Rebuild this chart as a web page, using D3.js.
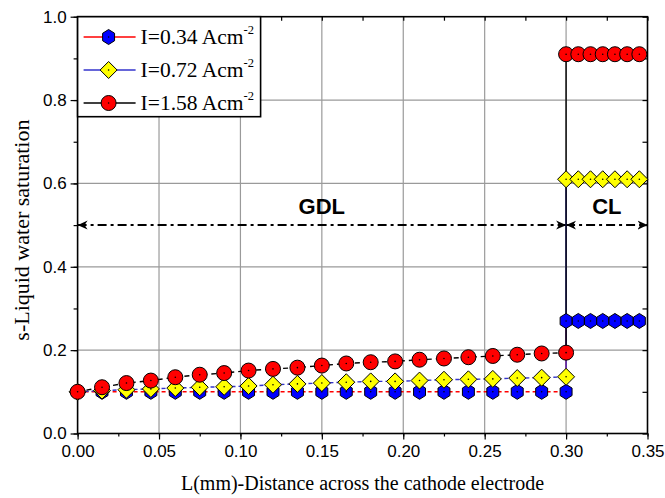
<!DOCTYPE html>
<html lang="en">
<head>
    <meta charset="UTF-8">
    <title>saturation</title>
    <style>
        body { margin: 0; background: #fff; }
        svg text { fill: #000; }
    </style>
</head>
<body>
<svg id="chart"></svg>

<script src="https://cdn.jsdelivr.net/npm/d3@7"></script>
<script>
    var width = 665;
    var height = 498;

    // GDL points (0 .. 0.30) and CL points (0.30 .. 0.345)
    var xGDL = [0, 0.015, 0.03, 0.045, 0.06, 0.075, 0.09, 0.105, 0.12, 0.135, 0.15,
                0.165, 0.18, 0.195, 0.21, 0.225, 0.24, 0.255, 0.27, 0.285, 0.30];
    var xCL = [0.30, 0.3075, 0.315, 0.3225, 0.33, 0.3375, 0.345];

    var gdl034 = [0.1, 0.1, 0.1, 0.1, 0.1, 0.1, 0.1, 0.1, 0.1, 0.1, 0.1,
                  0.1, 0.1, 0.1, 0.1, 0.1, 0.1, 0.1, 0.1, 0.1, 0.1];
    var gdl072 = [0.1, 0.103, 0.105, 0.107, 0.109, 0.111, 0.112, 0.114, 0.117, 0.119, 0.121,
                  0.123, 0.125, 0.125, 0.127, 0.129, 0.130, 0.131, 0.133, 0.134, 0.136];
    var gdl158 = [0.1, 0.111, 0.121, 0.127, 0.135, 0.141, 0.145, 0.151, 0.155, 0.158, 0.163,
                  0.168, 0.171, 0.173, 0.177, 0.180, 0.183, 0.186, 0.189, 0.192, 0.194];
    var cl034 = [0.27, 0.27, 0.27, 0.27, 0.27, 0.27, 0.27];
    var cl072 = [0.61, 0.61, 0.61, 0.61, 0.61, 0.61, 0.61];
    var cl158 = [0.91, 0.91, 0.91, 0.91, 0.91, 0.91, 0.91];

    var seriesNames = ["I=0.34 Acm", "I=0.72 Acm", "I=1.58 Acm"];
    var markerFill = ["#0000ff", "#ffff00", "#ff0000"];
    var lineColor = ["#ff0000", "#3333cc", "#000000"];
    var markerShape = ["hexagon", "diamond", "circle"];

    var xTicks = [0, 0.05, 0.10, 0.15, 0.20, 0.25, 0.30, 0.35];
    var yTicks = [0, 0.2, 0.4, 0.6, 0.8, 1.0];
    var regionNames = ["GDL", "CL"];
    var regionBounds = [[0, 0.30], [0.30, 0.35]];

    // 绘图区边界 (名字避开 window.top)
    var plotL = 77.6, plotR = 647.5, plotT = 16.7, plotB = 433.5;

    var x = d3.scaleLinear().domain([0, 0.35]).range([plotL, plotR]);
    var y = d3.scaleLinear().domain([0, 1]).range([plotB, plotT]);

    var svg = d3.select("#chart")
        .attr("width", width)
        .attr("height", height);

    // 网格线
    var grid = svg.append("g");
    grid.selectAll(".gx")
        .data(xTicks.slice(1, -1))
        .enter().append("line")
        .attr("x1", function(d){ return x(d); })
        .attr("x2", function(d){ return x(d); })
        .attr("y1", plotT).attr("y2", plotB)
        .attr("stroke", "#9a9a9a").attr("stroke-width", 1.2);
    grid.selectAll(".gy")
        .data(yTicks.slice(1, -1))
        .enter().append("line")
        .attr("y1", function(d){ return y(d); })
        .attr("y2", function(d){ return y(d); })
        .attr("x1", plotL).attr("x2", plotR)
        .attr("stroke", "#9a9a9a").attr("stroke-width", 1.2);

    // 坐标轴
    var xMinor = d3.range(0, 0.3501, 0.025);
    var yMinor = d3.range(0, 1.0001, 0.1);

    function styleAxis(g) {
        g.select(".domain").remove();
        g.selectAll("line").attr("stroke", "#000").attr("stroke-width", 1.2);
        g.selectAll("text").attr("font-family", "Arial, 'Liberation Sans', sans-serif")
            .attr("font-size", 17);
    }

    svg.append("g").attr("transform", "translate(0," + plotB + ")")
        .call(d3.axisBottom(x).tickValues(xMinor).tickSize(3).tickFormat(""))
        .call(styleAxis);
    svg.append("g").attr("transform", "translate(0," + plotB + ")")
        .call(d3.axisBottom(x).tickValues(xTicks).tickSize(6).tickPadding(5).tickFormat(d3.format(".2f")))
        .call(styleAxis);
    svg.append("g").attr("transform", "translate(0," + plotT + ")")
        .call(d3.axisBottom(x).tickValues(xMinor).tickSize(4).tickFormat(""))
        .call(styleAxis);

    svg.append("g").attr("transform", "translate(" + plotL + ",0)")
        .call(d3.axisLeft(y).tickValues(yMinor).tickSize(4).tickFormat(""))
        .call(styleAxis);
    svg.append("g").attr("transform", "translate(" + plotL + ",0)")
        .call(d3.axisLeft(y).tickValues(yTicks).tickSize(7).tickPadding(4).tickFormat(d3.format(".1f")))
        .call(styleAxis);
    svg.append("g").attr("transform", "translate(" + plotR + ",0)")
        .call(d3.axisLeft(y).tickValues(yMinor).tickSize(5).tickFormat(""))
        .call(styleAxis);

    svg.append("rect")
        .attr("x", plotL).attr("y", plotT)
        .attr("width", plotR - plotL).attr("height", plotB - plotT)
        .attr("fill", "none").attr("stroke", "#000").attr("stroke-width", 1.6);

    // 区域标注
    var defs = svg.append("defs");
    defs.append("marker")
        .attr("id", "arr")
        .attr("viewBox", "0 0 10 10")
        .attr("refX", 10).attr("refY", 5)
        .attr("markerWidth", 10).attr("markerHeight", 10)
        .attr("markerUnits", "userSpaceOnUse")
        .attr("orient", "auto-start-reverse")
        .append("path")
        .attr("d", "M0,0.5 L10,5 L0,9.5 L3,5 Z")
        .attr("fill", "#000");

    var ann = svg.append("g");
    ann.selectAll("line")
        .data(regionBounds)
        .enter().append("line")
        .attr("x1", function(d){ return x(d[0]); })
        .attr("x2", function(d){ return x(d[1]); })
        .attr("y1", y(0.5)).attr("y2", y(0.5))
        .attr("stroke", "#000").attr("stroke-width", 2)
        .attr("stroke-dasharray", "9,4,3,4")
        .attr("marker-start", "url(#arr)")
        .attr("marker-end", "url(#arr)");
    ann.selectAll("text")
        .data(regionBounds)
        .enter().append("text")
        .attr("x", function(d){ return x((d[0] + d[1]) / 2); })
        .attr("y", y(0.5) - 11)
        .attr("text-anchor", "middle")
        .attr("font-family", "Arial, 'Liberation Sans', sans-serif")
        .attr("font-weight", "bold")
        .attr("font-size", 22)
        .text(function(d, i){ return regionNames[i]; });

    // 数据
    var gdlData = [gdl034, gdl072, gdl158];
    var clData = [cl034, cl072, cl158];
    var series = seriesNames.map(function(name, i) {
        var pts = xGDL.map(function(v, j){ return [v, gdlData[i][j]]; });
        var cl = xCL.map(function(v, j){ return [v, clData[i][j]]; });
        return { gdl: pts, cl: cl, all: pts.concat(cl), i: i };
    });

    var line = d3.line()
        .x(function(d){ return x(d[0]); })
        .y(function(d){ return y(d[1]); });

    function shapePath(shape, r) {
        if (shape === "circle") {
            return d3.symbol().type(d3.symbolCircle).size(Math.PI * r * r)();
        }
        if (shape === "diamond") {
            return "M0," + (-r) + "L" + r + ",0L0," + r + "L" + (-r) + ",0Z";
        }
        var p = [];
        for (var k = 0; k < 6; k++) {
            var a = Math.PI / 2 + k * Math.PI / 3;
            p.push([r * 0.92 * Math.cos(a), r * Math.sin(a)]);
        }
        return "M" + p.map(function(q){ return q.join(","); }).join("L") + "Z";
    }
    var markerSize = [7.5, 8.5, 7.5];

    series.forEach(function(s) {
        var g = svg.append("g");
        g.append("path")
            .attr("d", line(s.gdl))
            .attr("fill", "none")
            .attr("stroke", lineColor[s.i]).attr("stroke-width", 1.4)
            .attr("stroke-dasharray", s.i === 2 ? "5,4" : "4,3");
        g.append("path")
            .attr("d", line([s.gdl[s.gdl.length - 1], s.cl[0]]))
            .attr("fill", "none")
            .attr("stroke", lineColor[s.i]).attr("stroke-width", 1.4);
    });

    series.forEach(function(s) {
        var g = svg.append("g");
        var m = g.selectAll("g")
            .data(s.all)
            .enter().append("g")
            .attr("transform", function(d){ return "translate(" + x(d[0]) + "," + y(d[1]) + ")"; });
        m.append("path")
            .attr("d", shapePath(markerShape[s.i], markerSize[s.i]))
            .attr("fill", markerFill[s.i])
            .attr("stroke", "#000").attr("stroke-width", 1);
        m.append("circle").attr("r", 0.8).attr("fill", "#000");
    });

    // 图例
    var lg = svg.append("g");
    lg.append("rect")
        .attr("x", plotL).attr("y", plotT)
        .attr("width", 183).attr("height", 100)
        .attr("fill", "#fff").attr("stroke", "#000").attr("stroke-width", 1.6);
    var rows = lg.selectAll(".row")
        .data(seriesNames)
        .enter().append("g")
        .attr("transform", function(d, i){ return "translate(" + (plotL + 31) + "," + (37 + i * 33) + ")"; });
    rows.append("line")
        .attr("x1", -25).attr("x2", 27)
        .attr("stroke", function(d, i){ return lineColor[i]; })
        .attr("stroke-width", 1.4);
    rows.append("path")
        .attr("d", function(d, i){ return shapePath(markerShape[i], markerSize[i]); })
        .attr("fill", function(d, i){ return markerFill[i]; })
        .attr("stroke", "#000").attr("stroke-width", 1);
    rows.append("circle").attr("r", 0.8).attr("fill", "#000");
    var lt = rows.append("text")
        .attr("x", 32).attr("y", 7)
        .attr("font-family", "'Times New Roman', 'Liberation Serif', serif")
        .attr("font-size", 21.5);
    lt.append("tspan").text(function(d){ return d; });
    lt.append("tspan").attr("dy", -10).attr("font-size", 12.5).text("-2");

    // 轴标题
    svg.append("text")
        .attr("x", (plotL + plotR) / 2).attr("y", 490)
        .attr("text-anchor", "middle")
        .attr("font-family", "'Times New Roman', 'Liberation Serif', serif")
        .attr("font-size", 20)
        .text("L(mm)-Distance across the cathode electrode");
    svg.append("text")
        .attr("transform", "translate(29," + ((plotT + plotB) / 2 + 5) + ") rotate(-90)")
        .attr("text-anchor", "middle")
        .attr("font-family", "'Times New Roman', 'Liberation Serif', serif")
        .attr("font-size", 22)
        .text("s-Liquid water saturation");
</script>
</body>
</html>
